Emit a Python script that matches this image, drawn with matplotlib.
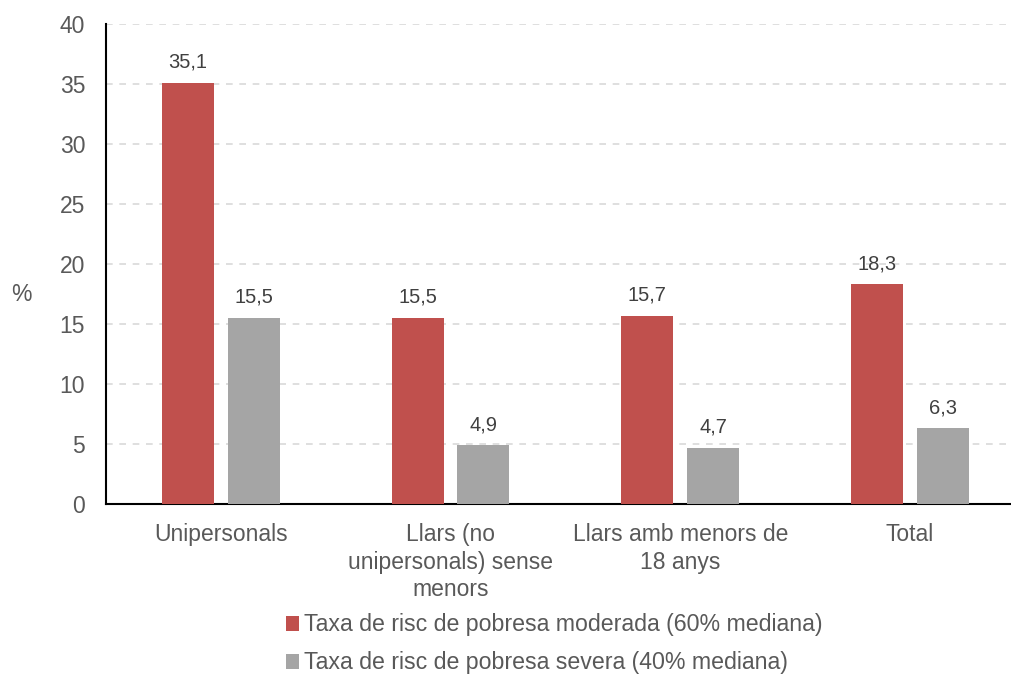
import numpy as np
import matplotlib.pyplot as plt

plt.rcParams["font.family"] = ["Liberation Sans", "DejaVu Sans"]

# data
categories = ["Unipersonals", "Llars (no\nunipersonals) sense\nmenors",
              "Llars amb menors de\n18 anys", "Total"]
moderada = [35.1, 15.5, 15.7, 18.3]
severa = [15.5, 4.9, 4.7, 6.3]
series_names = ["Taxa de risc de pobresa moderada (60% mediana)",
                "Taxa de risc de pobresa severa (40% mediana)"]

red = "#C0504D"
grey = "#A5A5A5"
text_col = "#595959"

fig = plt.figure(figsize=(10.11, 6.75), dpi=100)
ax = fig.add_axes([0.1048, 0.2533, 0.8952, 0.7111])

x = np.arange(len(categories))
w = 0.227
off = 0.143
b1 = ax.bar(x - off, moderada, w, color=red, label=series_names[0], zorder=3)
b2 = ax.bar(x + off, severa, w, color=grey, label=series_names[1], zorder=3)

for bars, vals in ((b1, moderada), (b2, severa)):
    for b, v in zip(bars, vals):
        ax.annotate(f"{v:.1f}".replace(".", ","),
                    (b.get_x() + b.get_width() / 2, v),
                    xytext=(0, 8), textcoords="offset points",
                    ha="center", va="bottom", fontsize=14.5, color="#404040")

ax.set_ylim(0, 40)
ax.set_xlim(-0.5, 3.44)
ax.set_yticks(range(0, 41, 5))
ax.set_xticks(x)
ax.set_xticklabels(categories, fontsize=16.5, color=text_col, linespacing=1.25)
ax.tick_params(axis="y", labelsize=16.5, labelcolor=text_col, length=0, pad=15)
ax.tick_params(axis="x", length=0, pad=14)
ax.yaxis.grid(True, linestyle=(0, (4, 4)), color="#D9D9D9", linewidth=1.2, zorder=0)
ax.set_axisbelow(True)

for s in ("top", "right"):
    ax.spines[s].set_visible(False)
for s in ("left", "bottom"):
    ax.spines[s].set_color("black")
    ax.spines[s].set_linewidth(1.5)

fig.text(0.021, 0.563, "%", fontsize=16.5, color=text_col, ha="center", va="center")

fig.legend(handles=[b1, b2], loc="center", bbox_to_anchor=(0.548, 0.046),
           frameon=False, fontsize=16.7, handlelength=0.6, handleheight=0.6,
           handletextpad=0.2, labelspacing=0.65, labelcolor=text_col)

fig.savefig("out.png", dpi=100)
